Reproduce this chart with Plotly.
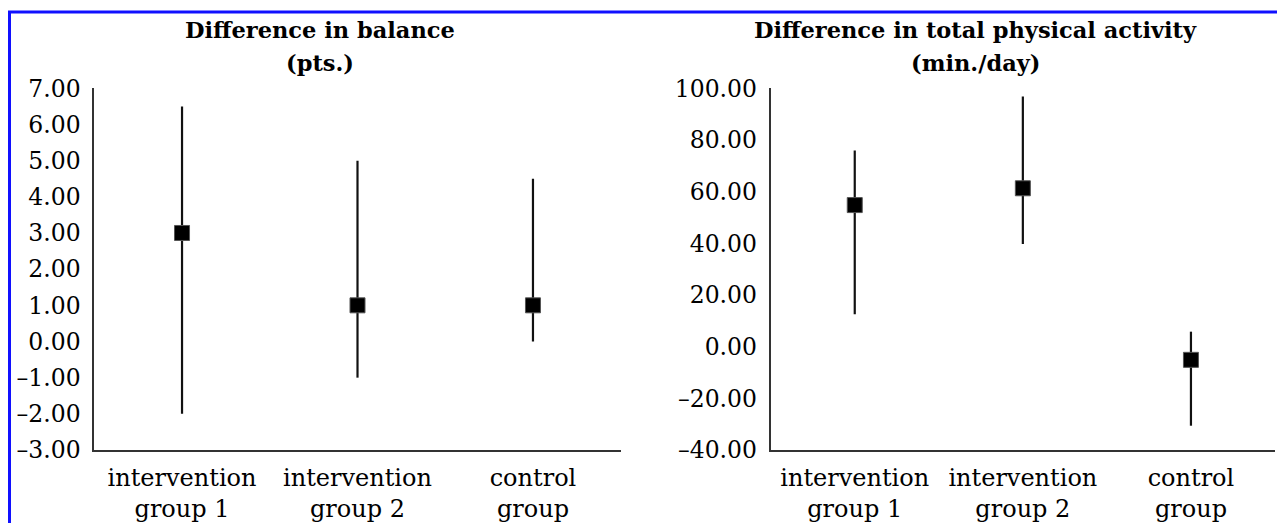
import plotly.graph_objects as go

# ---- data ----
categories = ["intervention<br>group 1", "intervention<br>group 2", "control<br>group"]

balance_mean = [3.0, 1.0, 1.0]
balance_upper = [6.5, 5.0, 4.5]
balance_lower = [-2.0, -1.0, 0.0]

activity_mean = [54.8, 61.3, -5.1]
activity_upper = [75.9, 96.8, 5.8]
activity_lower = [12.5, 39.7, -30.6]

balance_ticks = [-3, -2, -1, 0, 1, 2, 3, 4, 5, 6, 7]
balance_ticktext = ["–3.00", "–2.00", "–1.00", "0.00", "1.00", "2.00", "3.00",
                    "4.00", "5.00", "6.00", "7.00"]
activity_ticks = [-40, -20, 0, 20, 40, 60, 80, 100]
activity_ticktext = ["–40.00", "–20.00", "0.00", "20.00", "40.00", "60.00",
                     "80.00", "100.00"]

title_left = ["Difference in balance", "(pts.)"]
title_right = ["Difference in total physical activity", "(min./day)"]

W, H = 1277, 523
FONT = "DejaVu Serif"
TXT = "#000000"
AXC = "#333333"


def err(mean, upper, lower):
    plus = [u - m for u, m in zip(upper, mean)]
    minus = [m - l for m, l in zip(mean, lower)]
    return plus, minus


fig = go.Figure()

for mean, up, lo, xa, ya in [
    (balance_mean, balance_upper, balance_lower, "x", "y"),
    (activity_mean, activity_upper, activity_lower, "x2", "y2"),
]:
    plus, minus = err(mean, up, lo)
    fig.add_trace(go.Scatter(
        x=categories, y=mean, mode="markers", xaxis=xa, yaxis=ya,
        marker=dict(symbol="square", size=15, color="#000000",
                    line=dict(color="#555555", width=1)),
        error_y=dict(type="data", symmetric=False, array=plus, arrayminus=minus,
                     thickness=2.2, width=0, color="#111111"),
        showlegend=False, cliponaxis=False,
    ))

y_top = 1 - 88.3 / H
y_bot = 1 - 450 / H

common_x = dict(type="category", range=[-0.5, 2.5], showgrid=False, zeroline=False,
                showline=True, linecolor=AXC, linewidth=2, ticks="", automargin=False,
                tickfont=dict(family=FONT, size=24, color=TXT), ticklabelstandoff=5)
common_y = dict(showgrid=False, zeroline=False, showline=True, linecolor=AXC,
                linewidth=2, ticks="", automargin=False,
                tickfont=dict(family=FONT, size=23.5, color=TXT),
                ticklabelstandoff=7)

fig.update_layout(
    width=W, height=H, margin=dict(l=0, r=0, t=0, b=0, autoexpand=False),
    paper_bgcolor="white", plot_bgcolor="white",
    xaxis=dict(domain=[94.3 / W, 620.7 / W], anchor="y", **common_x),
    yaxis=dict(domain=[y_bot, y_top], anchor="x", range=[-3, 7],
               tickvals=balance_ticks, ticktext=balance_ticktext, **common_y),
    xaxis2=dict(domain=[770.7 / W, 1275 / W], anchor="y2", **common_x),
    yaxis2=dict(domain=[y_bot, y_top], anchor="x2", range=[-40, 100],
                tickvals=activity_ticks, ticktext=activity_ticktext, **common_y),
)

# titles
for lines, cx in [(title_left, 320), (title_right, 975)]:
    for txt, cy in zip(lines, [30, 63]):
        fig.add_annotation(text="<b>" + txt + "</b>", xref="paper", yref="paper",
                           x=cx / W, y=1 - cy / H, xanchor="center", yanchor="middle",
                           showarrow=False, font=dict(family=FONT, size=22.5, color=TXT))

# blue frame (left and top edges)
fig.add_shape(type="line", xref="paper", yref="paper", x0=9.5 / W, x1=9.5 / W,
              y0=0, y1=1 - 11 / H, line=dict(color="#1010ff", width=3))
fig.add_shape(type="line", xref="paper", yref="paper", x0=8 / W, x1=1,
              y0=1 - 12 / H, y1=1 - 12 / H, line=dict(color="#1010ff", width=3))

fig.write_html("out.html", config={"displayModeBar": False},
               post_script="document.body.style.margin='0';")
